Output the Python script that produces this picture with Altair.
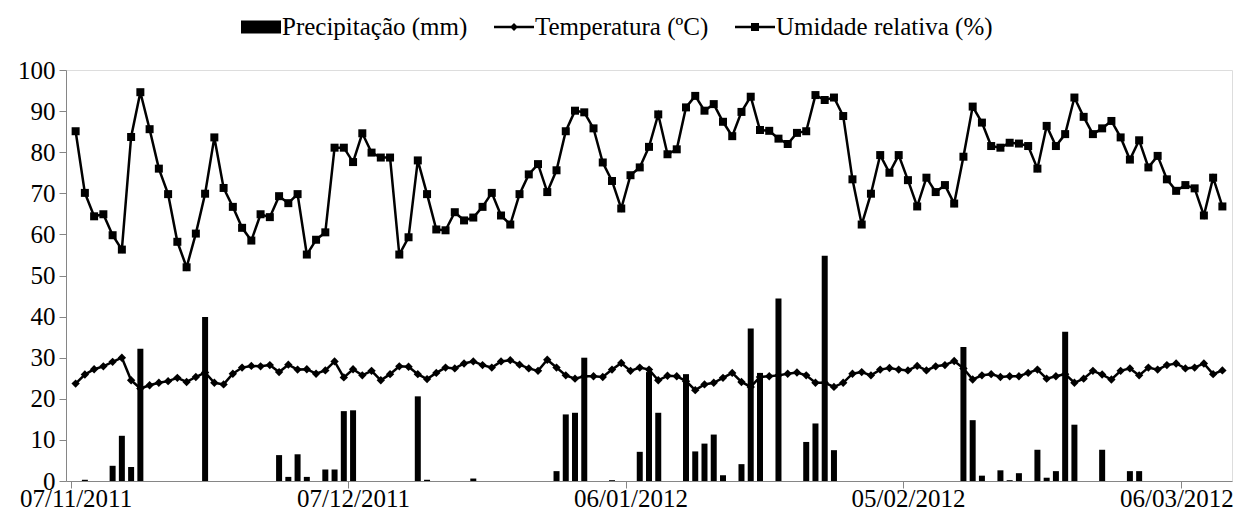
import altair as alt
import pandas as pd

# ---- data (daily, 07/11/2011 .. 10/03/2012) ----
humidity = [
    85.1, 70.1, 64.4, 64.9, 59.8, 56.3, 83.7, 94.6, 85.6, 76.0,
    69.8, 58.2, 52.0, 60.2, 69.9, 83.6, 71.3, 66.7, 61.6, 58.5,
    64.9, 64.2, 69.3, 67.6, 69.8, 55.1, 58.7, 60.5, 81.1, 81.1,
    77.6, 84.6, 79.9, 78.7, 78.7, 55.1, 59.3, 78.0, 69.8, 61.2,
    61.0, 65.4, 63.4, 64.1, 66.7, 70.1, 64.6, 62.4, 69.8, 74.6,
    77.1, 70.3, 75.6, 85.1, 90.1, 89.7, 85.8, 77.5, 73.0, 66.3,
    74.4, 76.3, 81.3, 89.2, 79.5, 80.7, 90.9, 93.7, 90.1, 91.7,
    87.4, 83.9, 89.8, 93.5, 85.4, 85.2, 83.3, 82.0, 84.7, 85.1,
    93.9, 92.7, 93.3, 88.8, 73.4, 62.4, 69.9, 79.3, 75.0, 79.3,
    73.2, 66.8, 73.8, 70.3, 72.0, 67.5, 78.9, 91.1, 87.2, 81.5,
    81.1, 82.3, 82.1, 81.5, 76.0, 86.4, 81.5, 84.4, 93.3, 88.6,
    84.4, 85.8, 87.6, 83.6, 78.2, 82.9, 76.3, 79.1, 73.4, 70.6,
    72.0, 71.2, 64.6, 73.8, 66.8,
]
temperature = [
    23.7, 25.9, 27.2, 27.9, 29.0, 30.0, 24.5, 22.5, 23.3, 23.9,
    24.3, 25.1, 24.1, 25.3, 26.4, 23.9, 23.5, 26.1, 27.6, 28.0,
    27.9, 28.2, 26.5, 28.3, 27.1, 27.2, 26.1, 26.9, 29.1, 25.2,
    27.2, 25.7, 26.8, 24.5, 26.0, 27.9, 27.8, 26.0, 24.8, 26.3,
    27.6, 27.4, 28.6, 29.1, 28.2, 27.6, 29.1, 29.4, 28.3, 27.4,
    26.8, 29.5, 27.6, 25.7, 24.9, 25.5, 25.5, 25.3, 27.1, 28.7,
    26.8, 27.6, 27.1, 24.5, 25.6, 25.5, 24.3, 22.1, 23.5, 23.9,
    25.1, 26.3, 24.1, 22.9, 25.3, 25.5, 25.7, 26.1, 26.4, 25.7,
    23.9, 23.9, 22.9, 23.9, 26.1, 26.5, 25.7, 27.1, 27.5, 27.1,
    26.9, 28.0, 26.9, 27.9, 28.2, 29.2, 27.4, 24.7, 25.7, 26.0,
    25.3, 25.5, 25.5, 26.3, 27.1, 24.9, 25.5, 26.0, 23.9, 24.9,
    26.8, 25.9, 24.7, 26.8, 27.4, 25.7, 27.6, 27.1, 28.2, 28.6,
    27.4, 27.6, 28.6, 26.0, 26.9,
]
# rainy days (day index from 07/11/2011) and rainfall in mm
rain_days = [1, 4, 5, 6, 7, 14, 22, 23, 24, 25, 27, 28, 29, 30, 37, 38,
             43, 52, 53, 54, 55, 58, 61, 62, 63, 66, 67, 68, 69, 70, 72, 73,
             74, 76, 79, 80, 81, 82, 96, 97, 98, 100, 101, 102, 104, 105,
             106, 107, 108, 111, 114, 115]
rain_mm = [0.3, 3.7, 11.0, 3.4, 32.2, 39.9, 6.3, 1.0, 6.5, 1.0, 2.8, 2.8,
           17.0, 17.2, 20.6, 0.3, 0.6, 2.4, 16.2, 16.6, 30.0, 0.2, 7.1, 26.5,
           16.6, 26.0, 7.2, 9.1, 11.3, 1.4, 4.1, 37.1, 26.3, 44.4, 9.5, 14.0,
           54.8, 7.5, 32.6, 14.8, 1.3, 2.6, 0.2, 1.9, 7.6, 0.8, 2.4, 36.3,
           13.7, 7.6, 2.4, 2.4]
tick_days = [0, 30, 60, 90, 120]
tick_labels = ["07/11/2011", "07/12/2011", "06/01/2012", "05/02/2012", "06/03/2012"]
series_names = ["Precipitação (mm)", "Temperatura (ºC)", "Umidade relativa (%)"]

n = len(humidity)
precip = [0.0] * n
for d, v in zip(rain_days, rain_mm):
    precip[d] = v

df = pd.DataFrame({"day": list(range(n)), "hum": humidity,
                   "temp": temperature, "prec": precip})

W, H = 1166, 411
FONT = "Liberation Serif"
AFS = 25   # axis labels
LFS = 25   # legend labels
GRAY = "#868686"
step = W / n

label_arr = "[" + ",".join("'%s'" % t for t in tick_labels) + "]"

x_enc = alt.X(
    "day:Q",
    scale=alt.Scale(domain=[-0.5, n - 0.5], nice=False, zero=False),
    axis=alt.Axis(
        values=tick_days,
        labelExpr=label_arr + "[round(datum.value/30)]",
        title=None, grid=False,
        tickOffset=-step / 2,
        labelOffset={"condition": {"test": "datum.value == %d" % tick_days[-1],
                                   "value": step / 2 - 9},
                     "value": step / 2},
        tickSize=7, tickColor=GRAY, domainColor=GRAY,
        labelFont=FONT, labelFontSize=AFS, labelColor="black",
        labelPadding=-2, labelFlush=False, labelOverlap=False,
    ),
)
x_plain = alt.X("day:Q")

y_scale = alt.Scale(domain=[0, 100], nice=False, zero=True)

bars = alt.Chart(df).mark_bar(size=6, color="black").encode(
    x=x_enc,
    y=alt.Y("prec:Q", scale=y_scale,
            axis=alt.Axis(values=list(range(0, 101, 10)), title=None, grid=False,
                          tickSize=7, tickColor=GRAY, domainColor=GRAY,
                          labelFont=FONT, labelFontSize=AFS, labelColor="black",
                          labelPadding=4)),
)

temp_line = alt.Chart(df).mark_line(color="black", strokeWidth=2.5).encode(
    x=x_plain, y=alt.Y("temp:Q", title=None))
temp_pts = alt.Chart(df).mark_point(shape="diamond", filled=True, size=70,
                                    color="black", opacity=1).encode(
    x=x_plain, y=alt.Y("temp:Q", title=None))

hum_line = alt.Chart(df).mark_line(color="black", strokeWidth=2.5).encode(
    x=x_plain, y=alt.Y("hum:Q", title=None))
hum_pts = alt.Chart(df).mark_point(shape="square", filled=True, size=64,
                                   color="black", opacity=1).encode(
    x=x_plain, y=alt.Y("hum:Q", title=None))

sym_paths = [
    "M-1,-0.32H1V0.32H-1Z",
    "M-1,-0.06H1V0.06H-1Z M0,-0.2L0.2,0L0,0.2L-0.2,0Z",
    "M-1,-0.06H1V0.06H-1Z M-0.2,-0.2H0.2V0.2H-0.2Z",
]
legend_df = pd.DataFrame({"series": series_names})
legend_layer = alt.Chart(legend_df).transform_filter("false").mark_point(
    filled=True, color="black", opacity=1).encode(
    x=alt.value(0), y=alt.value(0),
    shape=alt.Shape("series:N",
                    scale=alt.Scale(domain=series_names, range=sym_paths),
                    legend=alt.Legend(
                        title=None, orient="none", direction="horizontal",
                        legendX=175, legendY=-63,
                        symbolSize=1600, symbolFillColor="black",
                        symbolStrokeWidth=0, symbolOpacity=1,
                        labelFont=FONT, labelFontSize=LFS, labelColor="black",
                        labelOffset=1, columnPadding=26, labelLimit=400)),
)

chart = alt.layer(bars, temp_line, temp_pts, hum_line, hum_pts, legend_layer).properties(
    width=W, height=H,
    autosize=alt.AutoSizeParams(type="none"),
    padding={"left": 58, "top": 62, "right": 7, "bottom": 31},
).configure_view(stroke=None).configure(background="white")

chart.save("out.html", embed_options={"renderer": "svg", "actions": False})
